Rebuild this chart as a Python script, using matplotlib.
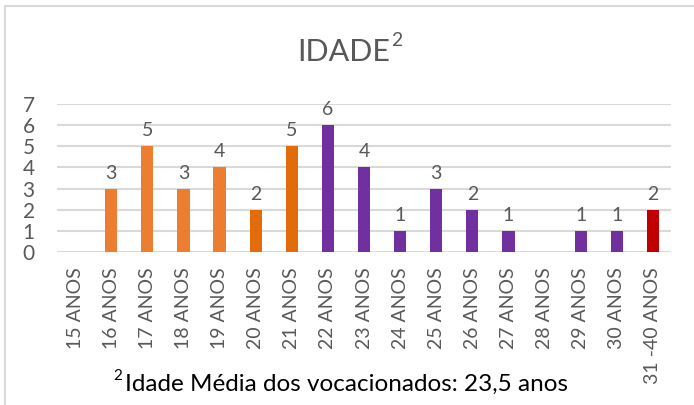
import matplotlib.pyplot as plt
from matplotlib.patches import Rectangle

# Age distribution data
ages = ['15 ANOS', '16 ANOS', '17 ANOS', '18 ANOS', '19 ANOS', '20 ANOS',
        '21 ANOS', '22 ANOS', '23 ANOS', '24 ANOS', '25 ANOS', '26 ANOS',
        '27 ANOS', '28 ANOS', '29 ANOS', '30 ANOS', '31 -40 ANOS']
counts = [0, 3, 5, 3, 4, 2, 5, 6, 4, 1, 3, 2, 1, 0, 1, 1, 2]
colors = ['#ED7D31'] * 5 + ['#E36C0A'] * 2 + ['#7030A0'] * 9 + ['#C00000']
labels = ['', '3', '5', '3', '4', '2', '5', '6', '4', '1', '3', '2', '1', '', '1', '1', '2']

plt.rcParams['font.family'] = ['Lato', 'DejaVu Sans']
gray = '#595959'

fig = plt.figure(figsize=(6.94, 4.05), dpi=100)
W, H = 694, 405
ax = fig.add_axes([57 / W, 153 / H, 614 / W, 148 / H])

x = range(len(ages))
ax.bar(x, counts, width=0.34, color=colors, zorder=3)
for i, (c, lab) in enumerate(zip(counts, labels)):
    if lab:
        ax.annotate(lab, (i, c), xytext=(0, 5), textcoords='offset points',
                    ha='center', va='bottom', fontsize=14, color=gray)

ax.set_xlim(-0.5, len(ages) - 0.5)
ax.set_ylim(0, 7)
ax.set_yticks(range(8))
ax.yaxis.grid(True, color='#D9D9D9', linewidth=1.5, zorder=0)
ax.set_axisbelow(True)
for s in ax.spines.values():
    s.set_visible(False)
ax.tick_params(axis='both', length=0, colors=gray, labelsize=14)
ax.tick_params(axis='y', pad=16, labelsize=15)
ax.set_xticks(list(x))
ax.set_xticklabels(ages, rotation=90, va='top', ha='center')
ax.tick_params(axis='x', pad=11)

# outer chart border (left/top visible)
fig.patches.append(Rectangle((5 / W, -0.05), 1.2, (H - 6) / H + 0.05,
                             transform=fig.transFigure, fill=False,
                             edgecolor='#D9D9D9', linewidth=1.5))

fig.text(390 / W, 1 - 52 / H, 'IDADE', ha='right', va='center',
         fontsize=22, color=gray)
fig.text(391 / W, 1 - 41 / H, '2', ha='left', va='center',
         fontsize=14, color=gray)

fig.text(113 / W, 1 - 376 / H, '2', ha='left', va='center', fontsize=11, color='black')
fig.text(125 / W, 1 - 384 / H, 'Idade Média dos vocacionados: 23,5 anos',
         ha='left', va='center', fontsize=17.5, color='black')

plt.savefig('out.png', dpi=100)
